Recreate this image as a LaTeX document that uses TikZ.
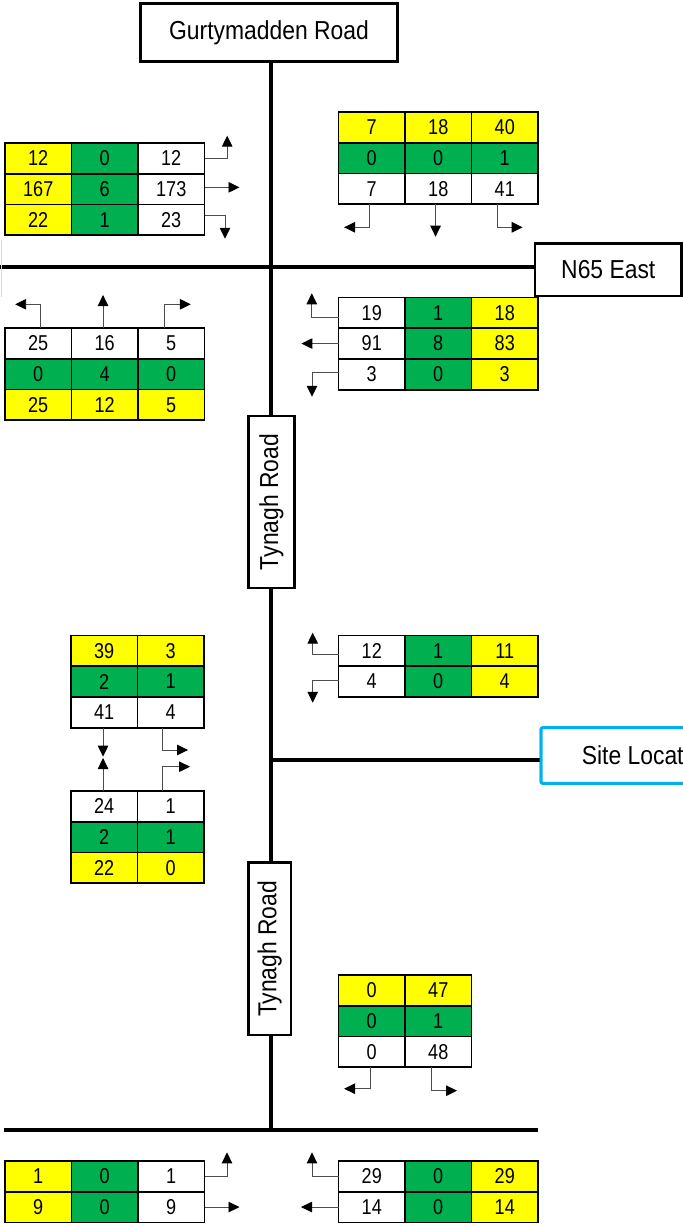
\documentclass[tikz,border=0pt]{standalone}
\usepackage{fontspec}
\usetikzlibrary{arrows.meta}
\newfontfamily\labfont[FakeStretch=0.88]{Liberation Sans}
\newfontfamily\numfontfam[FakeStretch=0.84]{Liberation Sans}
\definecolor{cY}{HTML}{FFFF00}
\definecolor{cG}{HTML}{00B050}
\definecolor{cW}{HTML}{FFFFFF}
\definecolor{siteblue}{HTML}{00B0F0}
\newcommand{\trow}[4]{\foreach \cc/\vv [count=\k] in {#4} {\node[cell,fill=\cc] (#1\k) at ({#2+(\k-0.5)*66.5},{#3+15.35}) {\vv};}}
\begin{document}
\begin{tikzpicture}[x=1pt,y=-1pt,
  cell/.style={draw=black,line width=1.8pt,minimum width=66.5pt,minimum height=30.7pt,inner sep=0pt,outer sep=0pt,font={\fontsize{21.5}{24}\selectfont\numfontfam}},
  lab/.style={draw=black,line width=2.8pt,fill=white,inner sep=0pt,font={\fontsize{26}{29}\selectfont\labfont}},
  road/.style={draw=black,line width=3.5pt},
  arr/.style={draw=black!70,line width=0.9pt,-{Triangle[length=11pt,width=10.5pt,color=black]}}]
\clip (0,0) rectangle (683,1227);
\fill[white] (0,0) rectangle (683,1227);
% coordinates for road ends
\coordinate (wEnd) at (0,267);
\coordinate (bL) at (3.5,1130);
\coordinate (bR) at (538,1130);
\coordinate (bMid) at (271,1130);
\coordinate (junc2) at (271,760);
% label boxes (positions)
\path (269,32.5) node[lab,minimum width=256.5pt,minimum height=58.4pt] (gurt) {Gurtymadden Road};
\path (608.3,269.7) node[lab,minimum width=146.6pt,minimum height=52.7pt] (n65) {N65 East};
\path (648,755.5) node[lab,draw=siteblue,rounded corners=2pt,line width=3pt,minimum width=214pt,minimum height=55.6pt] (site) {Site Location};
% roads
\draw[road] (gurt.south -| bMid) -- (bMid);
\draw[road] (wEnd) -- (wEnd -| n65.west);
\draw[road] (junc2) -- (junc2 -| site.west);
\draw[road] (bL) -- (bR);
\draw[black!15,line width=1pt] (1.5,240) -- (1.5,297);
% redraw boxes on top
\node[lab,minimum width=256.5pt,minimum height=58.4pt] at (gurt) {Gurtymadden Road};
\node[lab,minimum width=146.6pt,minimum height=52.7pt] at (n65) {N65 East};
\node[lab,draw=siteblue,rounded corners=2pt,line width=3pt,minimum width=214pt,minimum height=55.6pt] at (site) {Site Location};
\node[lab,minimum width=46pt,minimum height=172pt] (ty1) at (271.3,502) {\rotatebox{90}{Tynagh Road}};
\node[lab,minimum width=42.7pt,minimum height=172.3pt] (ty2) at (269.6,948.9) {\rotatebox{90}{Tynagh Road}};
% Table A
\trow{A1}{5}{143}{cY/12,cG/0,cW/12}
\trow{A2}{5}{173.7}{cY/167,cG/6,cW/173}
\trow{A3}{5}{204.4}{cY/22,cG/1,cW/23}
% Table B
\trow{B1}{338.5}{112}{cY/7,cY/18,cY/40}
\trow{B2}{338.5}{142.7}{cG/0,cG/0,cG/1}
\trow{B3}{338.5}{173.4}{cW/7,cW/18,cW/41}
% Table C
\trow{C1}{5}{328}{cW/25,cW/16,cW/5}
\trow{C2}{5}{358.7}{cG/0,cG/4,cG/0}
\trow{C3}{5}{389.4}{cY/25,cY/12,cY/5}
% Table D
\trow{D1}{338.5}{297.5}{cW/19,cG/1,cY/18}
\trow{D2}{338.5}{328.2}{cW/91,cG/8,cY/83}
\trow{D3}{338.5}{358.9}{cW/3,cG/0,cY/3}
% Table E
\trow{E1}{71}{635.5}{cY/39,cY/3}
\trow{E2}{71}{666.2}{cG/2,cG/1}
\trow{E3}{71}{696.9}{cW/41,cW/4}
% Table F
\trow{F1}{71}{791}{cW/24,cW/1}
\trow{F2}{71}{821.7}{cG/2,cG/1}
\trow{F3}{71}{852.4}{cY/22,cY/0}
% Table G
\trow{G1}{338.5}{635.5}{cW/12,cG/1,cY/11}
\trow{G2}{338.5}{666.2}{cW/4,cG/0,cY/4}
% Table H
\trow{H1}{338.5}{975}{cY/0,cY/47}
\trow{H2}{338.5}{1005.7}{cG/0,cG/1}
\trow{H3}{338.5}{1036.4}{cW/0,cW/48}
% Table I
\trow{I1}{5}{1161}{cY/1,cG/0,cW/1}
\trow{I2}{5}{1191.7}{cY/9,cG/0,cW/9}
% Table J
\trow{J1}{338.5}{1161}{cW/29,cG/0,cY/29}
\trow{J2}{338.5}{1191.7}{cW/14,cG/0,cY/14}
% arrows A
\draw[arr] (A13.east) -- ++(22.7,0) -- ++(0,-22.7);
\draw[arr] ([yshift=1.7pt]A23.east) -- ++(35,0);
\draw[arr] ([yshift=4.7pt]A33.east) -- ++(20.5,0) -- ++(0,23.7);
% arrows B
\draw[arr] ([xshift=-2.4pt]B31.south) -- ++(0,23.2) -- ++(-25.3,0);
\draw[arr] ([xshift=-2.7pt]B32.south) -- ++(0,32.6);
\draw[arr] ([xshift=-7.3pt]B33.south) -- ++(0,23.2) -- ++(25.2,0);
% arrows C
\draw[arr] ([xshift=2.2pt]C11.north) -- ++(0,-23.7) -- ++(-25.3,0);
\draw[arr] ([xshift=-1.7pt]C12.north) -- ++(0,-33);
\draw[arr] ([xshift=-6.6pt]C13.north) -- ++(0,-23.7) -- ++(26.2,0);
% arrows D
\draw[arr] ([yshift=-4.8pt]D11.west) -- ++(-26.7,0) -- ++(0,-24.4);
\draw[arr] (D21.west) -- ++(-37.1,0);
\draw[arr] ([yshift=1.5pt]D31.west) -- ++(-26.5,0) -- ++(0,24);
% arrows E, F
\draw[arr] ([xshift=-1.2pt]E31.south) -- ++(0,29);
\draw[arr] ([xshift=-8.2pt]E32.south) -- ++(0,22.4) -- ++(25.5,0);
\draw[arr] ([xshift=-1.2pt]F11.north) -- ++(0,-33);
\draw[arr] ([xshift=-8.2pt]F12.north) -- ++(0,-24.3) -- ++(27.5,0);
% arrows G
\draw[arr] ([yshift=-3.8pt]G11.west) -- ++(-25.8,0) -- ++(0,-22);
\draw[arr] ([yshift=1.5pt]G21.west) -- ++(-25.8,0) -- ++(0,22.7);
% arrows H
\draw[arr] ([xshift=-1.7pt]H31.south) -- ++(0,21.6) -- ++(-26,0);
\draw[arr] ([xshift=-7.2pt]H32.south) -- ++(0,23.6) -- ++(26,0);
% arrows I, J
\draw[arr] (I13.east) -- ++(22.5,0) -- ++(0,-24);
\draw[arr] (I23.east) -- ++(35,0);
\draw[arr] (J11.west) -- ++(-26.5,0) -- ++(0,-24);
\draw[arr] (J21.west) -- ++(-37.5,0);
\end{tikzpicture}
\end{document}
